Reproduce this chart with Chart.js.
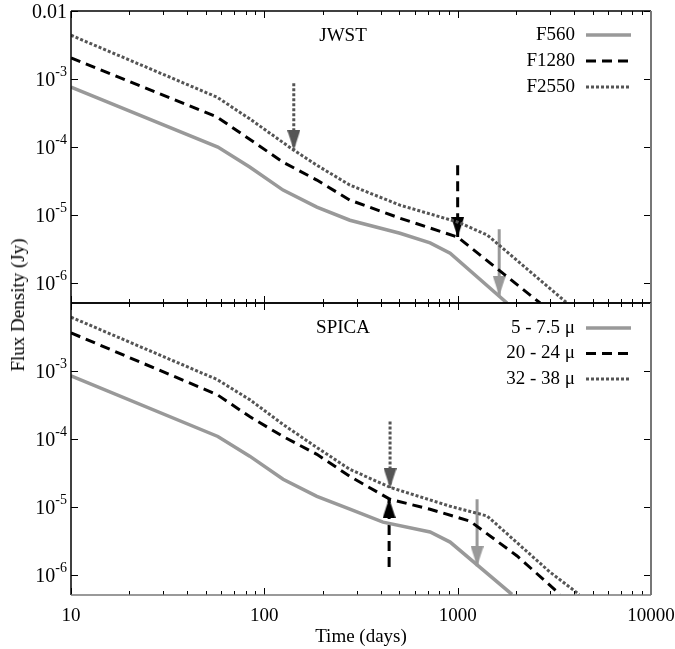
<!DOCTYPE html>
<html>
<head>
<meta charset="utf-8">
<script src="https://cdn.jsdelivr.net/npm/chart.js@4.4.1/dist/chart.umd.min.js"></script>
<style>
body { margin: 0; background: #fff; }
#wrap { position: relative; width: 675px; height: 649px; }
#top { position: absolute; left: 0; top: 0; }
#bottom { position: absolute; left: 0; top: 302px; }
#ytitle { position: absolute; left: 18px; top: 305px; transform: translate(-50%, -50%) rotate(-90deg);
	font: 19px "Liberation Serif", serif; white-space: nowrap; color: #000; }
</style>
</head>
<body>
<div id="wrap">
<canvas id="top" width="675" height="305" style="width:675px;height:305px"></canvas>
<canvas id="bottom" width="675" height="347" style="width:675px;height:347px"></canvas>
<div id="ytitle">Flux Density (Jy)</div>
</div>
<script>
// axes
const xTicks = [10, 100, 1000, 10000]
const xLabels = ['10', '100', '1000', '10000']
const yTicksTop = [1e-2, 1e-3, 1e-4, 1e-5, 1e-6]
const yLabelsTop = ['0.01', '10^-3', '10^-4', '10^-5', '10^-6']
const yTicksBottom = [1e-3, 1e-4, 1e-5, 1e-6]
const yLabelsBottom = ['10^-3', '10^-4', '10^-5', '10^-6']

// JWST panel (days, Jy)
const jwstNames = ['F560', 'F1280', 'F2550']
const jwstT560 = [10, 57.5, 84, 125, 187, 277, 503, 720, 914, 1800]
const jwstF560 = [7.6e-4, 1.0e-4, 5.1e-5, 2.33e-5, 1.31e-5, 8.4e-6, 5.4e-6, 3.9e-6, 2.76e-6, 5.1e-7]
const jwstT1280 = [10, 57, 125, 187, 277, 503, 1000, 2670]
const jwstF1280 = [2.04e-3, 2.76e-4, 6.0e-5, 3.27e-5, 1.66e-5, 9.0e-6, 4.75e-6, 5.1e-7]
const jwstT2550 = [10, 57, 84, 142, 187, 277, 503, 1000, 1420, 3680]
const jwstF2550 = [4.4e-3, 5.4e-4, 2.6e-4, 9.0e-5, 5.4e-5, 2.76e-5, 1.4e-5, 7.9e-6, 5.1e-6, 5.1e-7]
// limit arrows, same order as names
const jwstArrowT = [1640, 1000, 142]
const jwstArrowFrom = [6.2e-6, 5.4e-5, 8.7e-4]
const jwstArrowTo = [6.5e-7, 4.75e-6, 9.0e-5]

// SPICA panel
const spicaNames = ['5 - 7.5 μ', '20 - 24 μ', '32 - 38 μ']
const spicaT1 = [10, 57.5, 84, 125, 187, 277, 411, 720, 914, 1910]
const spicaF1 = [8.5e-4, 1.09e-4, 5.6e-5, 2.56e-5, 1.44e-5, 9.3e-6, 6.0e-6, 4.3e-6, 3.06e-6, 5.2e-7]
const spicaT2 = [10, 57, 84, 125, 187, 277, 447, 720, 1160, 2030, 3390]
const spicaF2 = [3.64e-3, 4.5e-4, 2.14e-4, 1.09e-4, 5.96e-5, 2.83e-5, 1.3e-5, 9.3e-6, 6.2e-6, 1.91e-6, 5.2e-7]
const spicaT3 = [10, 57, 84, 125, 187, 277, 447, 914, 1420, 3000, 4250]
const spicaF3 = [6.2e-3, 7.5e-4, 3.8e-4, 1.64e-4, 7.5e-5, 3.59e-5, 1.95e-5, 1.03e-5, 7.4e-6, 1.11e-6, 5.2e-7]
const spicaArrowT = [1260, 442, 447]
const spicaArrowFrom = [1.3e-5, 1.32e-6, 1.81e-4]
const spicaArrowTo = [1.35e-6, 1.35e-5, 1.9e-5]

const SERIF = '"Liberation Serif", "DejaVu Serif", serif'
const styles = [
	{ color: '#999999', width: 3.5, dash: [] },
	{ color: '#000000', width: 3, dash: [10, 6] },
	{ color: '#555555', width: 3, dash: [3, 2] },
]

// arrow head image, tip sits in the middle of the canvas
function head(color, w, h, up) {
	const c = document.createElement('canvas')
	c.width = w
	c.height = 2 * h
	const g = c.getContext('2d')
	g.fillStyle = color
	g.beginPath()
	if (up) {
		g.moveTo(w / 2, h); g.lineTo(0, 2 * h); g.lineTo(w, 2 * h)
	} else {
		g.moveTo(0, 0); g.lineTo(w, 0); g.lineTo(w / 2, h)
	}
	g.closePath()
	g.fill()
	return c
}

function buildDatasets(names, ts, fs, arrowT, arrowFrom, arrowTo) {
	const ds = []
	for (let i = 0; i < names.length; i++) {
		const st = styles[i]
		ds.push({
			label: names[i],
			data: ts[i].map((t, j) => ({ x: t, y: fs[i][j] })),
			borderColor: st.color, borderWidth: st.width, borderDash: st.dash,
			pointRadius: 0, fill: false,
		})
	}
	for (let i = 0; i < names.length; i++) {
		const st = styles[i]
		const up = arrowTo[i] > arrowFrom[i]
		ds.push({
			label: '',
			data: [{ x: arrowT[i], y: arrowFrom[i] }, { x: arrowT[i], y: arrowTo[i] }],
			borderColor: st.color, borderWidth: 3, borderDash: st.dash, pointRadius: 0,
		})
		ds.push({
			label: '',
			data: [{ x: arrowT[i], y: arrowTo[i] }],
			showLine: false,
			pointStyle: head(st.color, 13, 20, up),
			pointRadius: 6,
		})
	}
	return ds
}

const panelPlugin = {
	id: 'panel',
	afterDatasetsDraw(chart, args, opts) {
		const { ctx, chartArea: a, scales: { x, y } } = chart
		const seg = (x1, y1, x2, y2) => { ctx.beginPath(); ctx.moveTo(x1, y1); ctx.lineTo(x2, y2); ctx.stroke() }
		ctx.save()
		ctx.strokeStyle = '#000'
		ctx.lineWidth = 1
		// inward x ticks, top and bottom
		for (let d = 10; d <= 10000; d *= 10) {
			for (let m = 1; m <= 9; m++) {
				if (d * m > 10000) break
				const px = Math.round(x.getPixelForValue(d * m)) + 0.5
				const len = m === 1 ? 7 : 4
				seg(px, a.top, px, a.top + len)
				seg(px, a.bottom, px, a.bottom - len)
			}
		}
		// y ticks left and right
		opts.yTicks.forEach(v => {
			const py = Math.round(y.getPixelForValue(v)) + 0.5
			seg(a.left, py, a.left + 7, py)
			seg(a.right, py, a.right - 7, py)
		})
		// frame
		ctx.lineWidth = 1.5
		seg(a.left, a.top, a.right, a.top)
		seg(a.left, a.top, a.left, a.bottom)
		ctx.strokeStyle = opts.bottomColor
		seg(a.left, a.bottom, a.right, a.bottom)
		ctx.strokeStyle = '#777'
		ctx.lineWidth = 2
		seg(a.right, a.top, a.right, a.bottom)

		// y tick labels with exponents
		ctx.fillStyle = '#000'
		ctx.textBaseline = 'middle'
		ctx.textAlign = 'right'
		opts.yLabels.forEach((lab, i) => {
			const py = y.getPixelForValue(opts.yTicks[i])
			const [base, exp] = lab.split('^')
			let right = a.left - 4
			if (exp) {
				ctx.font = '14px ' + SERIF
				ctx.fillText(exp, right, py - 7)
				right -= ctx.measureText(exp).width
			}
			ctx.font = '20px ' + SERIF
			ctx.fillText(base, right, py + 2)
		})

		// panel name
		ctx.font = '19px ' + SERIF
		ctx.textAlign = 'center'
		ctx.fillText(opts.name, 343, opts.nameY)

		// legend: text then line sample
		ctx.textAlign = 'right'
		let row = 0
		chart.data.datasets.forEach(ds => {
			if (!ds.label) return
			const ly = opts.legendY + row * opts.legendStep
			ctx.fillText(ds.label, 575, ly)
			ctx.save()
			ctx.strokeStyle = ds.borderColor
			ctx.lineWidth = ds.borderWidth
			ctx.setLineDash(ds.borderDash)
			seg(586, ly, 631, ly)
			ctx.restore()
			row++
		})
		ctx.restore()
	}
}

function makeChart(id, datasets, panel, isBottom) {
	return new Chart(document.getElementById(id), {
		type: 'line',
		data: { datasets },
		options: {
			responsive: false,
			animation: false,
			layout: {
				autoPadding: false,
				padding: isBottom ? { left: 71, right: 24, top: 1, bottom: 0 } : { left: 71, right: 24, top: 11, bottom: 2 },
			},
			scales: {
				x: {
					type: 'logarithmic', min: 10, max: 10000, display: isBottom,
					afterBuildTicks: s => { s.ticks = xTicks.map(v => ({ value: v })) },
					afterFit: s => {
						s.paddingLeft = 0
						s.paddingRight = 0
						if (isBottom) s.height = 54
					},
					grid: { display: false },
					border: { display: false },
					ticks: {
						autoSkip: false, maxRotation: 0, padding: 2, color: '#000',
						font: { family: SERIF, size: 19 },
						callback: v => xLabels[xTicks.indexOf(v)] ?? '',
					},
					title: { display: true, text: 'Time (days)', color: '#000', font: { family: SERIF, size: 19 }, padding: { top: 0, bottom: 1 } },
				},
				y: { type: 'logarithmic', min: 5.1e-7, max: 0.01, display: false },
			},
			plugins: { legend: { display: false }, tooltip: { enabled: false }, panel },
		},
		plugins: [panelPlugin],
	})
}

makeChart('top',
	buildDatasets(jwstNames, [jwstT560, jwstT1280, jwstT2550], [jwstF560, jwstF1280, jwstF2550], jwstArrowT, jwstArrowFrom, jwstArrowTo),
	{ yTicks: yTicksTop, yLabels: yLabelsTop, name: 'JWST', nameY: 36, legendY: 35, legendStep: 26, bottomColor: '#000' },
	false)

makeChart('bottom',
	buildDatasets(spicaNames, [spicaT1, spicaT2, spicaT3], [spicaF1, spicaF2, spicaF3], spicaArrowT, spicaArrowFrom, spicaArrowTo),
	{ yTicks: yTicksBottom, yLabels: yLabelsBottom, name: 'SPICA', nameY: 26, legendY: 26, legendStep: 25.5, bottomColor: '#777' },
	true)
</script>
</body>
</html>
